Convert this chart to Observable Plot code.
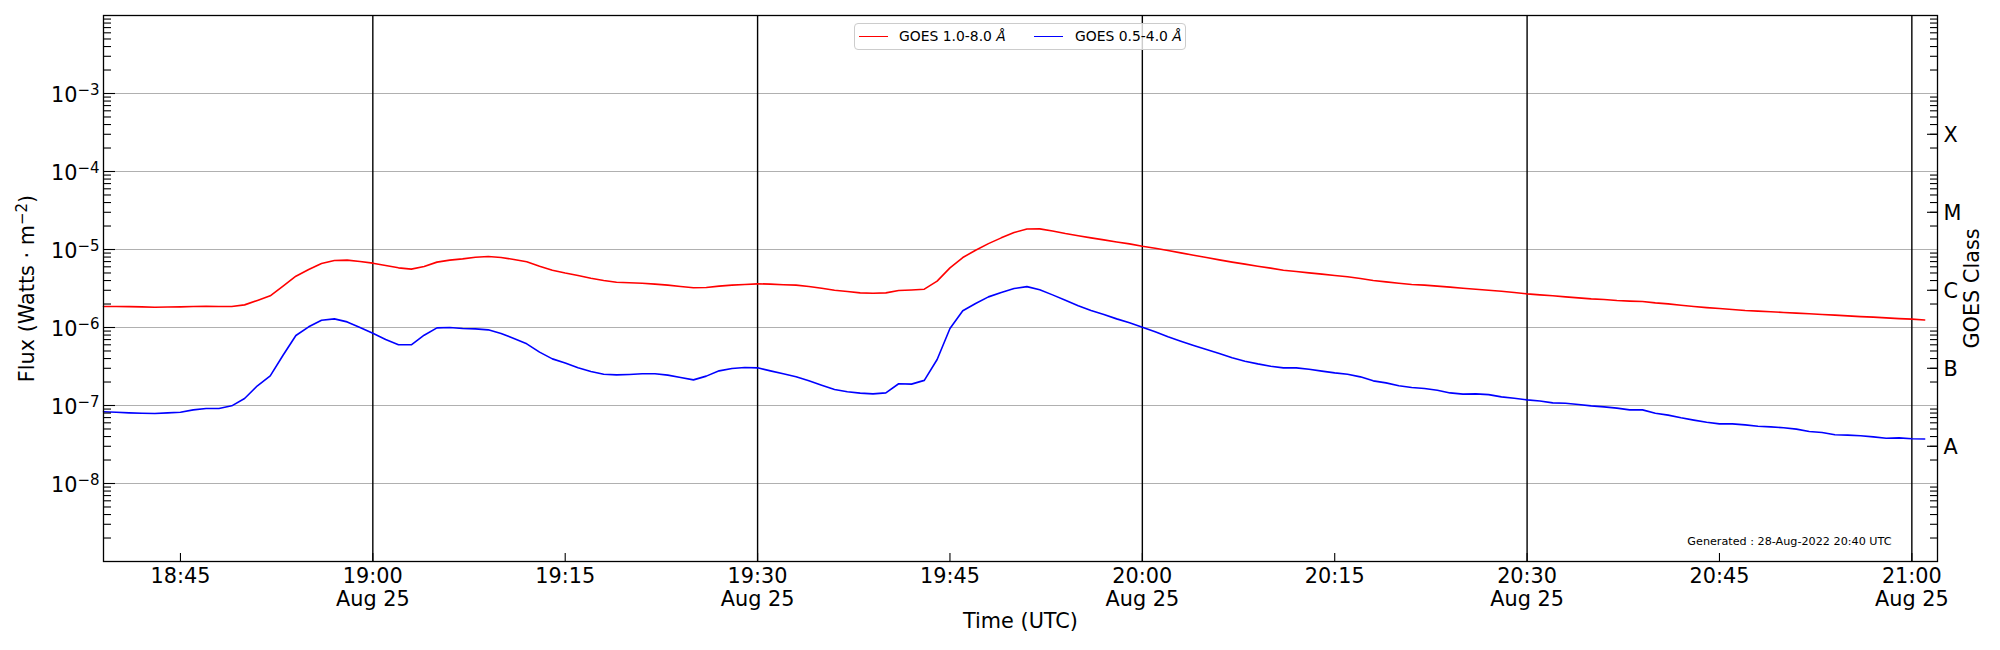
<!DOCTYPE html>
<html>
<head>
<meta charset="utf-8">
<script src="https://cdn.jsdelivr.net/npm/d3@7"></script>
<script src="https://cdn.jsdelivr.net/npm/@observablehq/plot@0.6"></script>
<style>
html, body { margin: 0; padding: 0; background: #fff; }
#wrap { position: relative; width: 2000px; height: 650px; font-family: "DejaVu Sans", sans-serif; }
#wrap svg { display: block; }
.legend { position: absolute; left: 854px; top: 23px; width: 332px; height: 27px; box-sizing: border-box;
  border: 1px solid #cccccc; border-radius: 4px; background: rgba(255,255,255,0.8);
  font-family: "DejaVu Sans", sans-serif; font-size: 13.9px; color: #000; }
.legend .ln { position: absolute; top: 12px; width: 29px; height: 0; border-top: 1.6px solid; }
.legend .tx { position: absolute; top: 0; line-height: 25px; white-space: nowrap; }
.legend i { font-style: italic; }
</style>
</head>
<body>
<div id="wrap"></div>
<script>
// ---------------- data ----------------
const startTime = "2022-08-25T18:39:00Z";   // first sample
const cadenceMinutes = 1;                    // one sample per minute

const seriesNames = ["GOES 1.0-8.0", "GOES 0.5-4.0"];
const seriesUnit = "Å";
const seriesColors = ["#ff0000", "#0000ff"];

// GOES 1.0-8.0 Å (W/m^2)
const xrsLong = [
  1.86e-6, 1.86e-6, 1.85e-6, 1.84e-6, 1.82e-6, 1.83e-6, 1.84e-6, 1.86e-6, 1.87e-6, 1.86e-6,
  1.86e-6, 1.95e-6, 2.22e-6, 2.55e-6, 3.39e-6, 4.55e-6, 5.54e-6, 6.62e-6, 7.22e-6, 7.30e-6,
  7.02e-6, 6.68e-6, 6.24e-6, 5.82e-6, 5.60e-6, 6.05e-6, 6.89e-6, 7.30e-6, 7.59e-6, 7.97e-6,
  8.13e-6, 7.90e-6, 7.45e-6, 6.95e-6, 6.11e-6, 5.43e-6, 5.00e-6, 4.65e-6, 4.29e-6, 4.01e-6,
  3.81e-6, 3.74e-6, 3.70e-6, 3.60e-6, 3.49e-6, 3.36e-6, 3.23e-6, 3.25e-6, 3.39e-6, 3.49e-6,
  3.56e-6, 3.63e-6, 3.60e-6, 3.53e-6, 3.49e-6, 3.36e-6, 3.19e-6, 3.01e-6, 2.90e-6, 2.78e-6,
  2.75e-6, 2.78e-6, 2.98e-6, 3.03e-6, 3.10e-6, 3.93e-6, 5.82e-6, 7.89e-6, 9.80e-6, 1.19e-5,
  1.41e-5, 1.65e-5, 1.83e-5, 1.84e-5, 1.73e-5, 1.60e-5, 1.50e-5, 1.41e-5, 1.33e-5, 1.25e-5,
  1.18e-5, 1.10e-5, 1.04e-5, 9.70e-6, 9.06e-6, 8.46e-6, 7.89e-6, 7.37e-6, 6.89e-6, 6.49e-6,
  6.11e-6, 5.77e-6, 5.43e-6, 5.22e-6, 5.02e-6, 4.83e-6, 4.65e-6, 4.47e-6, 4.25e-6, 4.01e-6,
  3.85e-6, 3.70e-6, 3.56e-6, 3.49e-6, 3.39e-6, 3.29e-6, 3.19e-6, 3.10e-6, 3.00e-6, 2.92e-6,
  2.81e-6, 2.70e-6, 2.62e-6, 2.55e-6, 2.47e-6, 2.40e-6, 2.33e-6, 2.29e-6, 2.22e-6, 2.18e-6,
  2.15e-6, 2.07e-6, 2.01e-6, 1.93e-6, 1.86e-6, 1.80e-6, 1.75e-6, 1.70e-6, 1.65e-6, 1.62e-6,
  1.59e-6, 1.56e-6, 1.53e-6, 1.50e-6, 1.47e-6, 1.44e-6, 1.41e-6, 1.38e-6, 1.36e-6, 1.33e-6,
  1.30e-6, 1.28e-6, 1.25e-6
];

// GOES 0.5-4.0 Å (W/m^2)
const xrsShort = [
  8.30e-8, 8.20e-8, 8.05e-8, 7.95e-8, 7.88e-8, 8.05e-8, 8.20e-8, 8.79e-8, 9.16e-8, 9.16e-8,
  9.90e-8, 1.23e-7, 1.79e-7, 2.40e-7, 4.41e-7, 7.90e-7, 1.02e-6, 1.24e-6, 1.29e-6, 1.18e-6,
  1.00e-6, 8.46e-7, 7.00e-7, 6.00e-7, 6.00e-7, 7.97e-7, 9.90e-7, 1.00e-6, 9.70e-7, 9.60e-7,
  9.33e-7, 8.38e-7, 7.23e-7, 6.18e-7, 4.83e-7, 3.96e-7, 3.50e-7, 3.04e-7, 2.73e-7, 2.52e-7,
  2.47e-7, 2.50e-7, 2.55e-7, 2.55e-7, 2.45e-7, 2.29e-7, 2.13e-7, 2.38e-7, 2.78e-7, 2.98e-7,
  3.07e-7, 3.04e-7, 2.78e-7, 2.55e-7, 2.33e-7, 2.07e-7, 1.82e-7, 1.60e-7, 1.50e-7, 1.44e-7,
  1.41e-7, 1.45e-7, 1.90e-7, 1.88e-7, 2.10e-7, 3.89e-7, 9.70e-7, 1.64e-6, 2.03e-6, 2.47e-6,
  2.81e-6, 3.16e-6, 3.34e-6, 3.04e-6, 2.62e-6, 2.24e-6, 1.90e-6, 1.65e-6, 1.47e-6, 1.29e-6,
  1.15e-6, 1.01e-6, 8.80e-7, 7.60e-7, 6.68e-7, 5.88e-7, 5.22e-7, 4.65e-7, 4.09e-7, 3.70e-7,
  3.42e-7, 3.19e-7, 3.04e-7, 3.04e-7, 2.92e-7, 2.76e-7, 2.62e-7, 2.52e-7, 2.33e-7, 2.07e-7,
  1.95e-7, 1.79e-7, 1.70e-7, 1.65e-7, 1.57e-7, 1.45e-7, 1.40e-7, 1.41e-7, 1.38e-7, 1.29e-7,
  1.24e-7, 1.18e-7, 1.14e-7, 1.08e-7, 1.07e-7, 1.03e-7, 9.90e-8, 9.60e-8, 9.25e-8, 8.79e-8,
  8.79e-8, 7.97e-8, 7.52e-8, 6.95e-8, 6.49e-8, 6.11e-8, 5.82e-8, 5.82e-8, 5.65e-8, 5.43e-8,
  5.32e-8, 5.18e-8, 4.98e-8, 4.65e-8, 4.51e-8, 4.21e-8, 4.17e-8, 4.09e-8, 3.96e-8, 3.81e-8,
  3.85e-8, 3.74e-8, 3.72e-8
];

const xDomain = ["2022-08-25T18:39:00Z", "2022-08-25T21:02:00Z"];
const xTickTimes = ["18:45", "19:00", "19:15", "19:30", "19:45", "20:00", "20:15", "20:30", "20:45", "21:00"];
const xTickLabels = ["18:45", "19:00\nAug 25", "19:15", "19:30\nAug 25", "19:45", "20:00\nAug 25",
                     "20:15", "20:30\nAug 25", "20:45", "21:00\nAug 25"];
const dayLineTimes = ["19:00", "19:30", "20:00", "20:30", "21:00"];

const yDomain = [1e-9, 1e-2];
const yDecadeTicks = [1e-8, 1e-7, 1e-6, 1e-5, 1e-4, 1e-3];
const goesClassValues = [3e-8, 3e-7, 3e-6, 3e-5, 3e-4];
const goesClassLabels = ["A", "B", "C", "M", "X"];

const xLabel = "Time (UTC)";
const yLabelMain = "Flux (Watts · m";
const yLabelSup = "−2";
const yLabelEnd = ")";
const y2Label = "GOES Class";
const generatedText = "Generated : 28-Aug-2022 20:40 UTC";

// ---------------- build ----------------
const dateOn = hm => new Date(`2022-08-25T${hm}:00Z`);
const t0 = new Date(startTime);
const rows = [];
[xrsLong, xrsShort].forEach((arr, s) => {
  arr.forEach((v, i) => rows.push({
    time: new Date(t0.getTime() + i * cadenceMinutes * 60000),
    flux: v,
    series: seriesNames[s]
  }));
});

const xTicks = xTickTimes.map(dateOn);
const dayLines = dayLineTimes.map(dateOn);

// log minor ticks 2..9 x 10^k inside domain
const yMinorTicks = [];
for (let e = -9; e <= -3; e++) for (let k = 2; k <= 9; k++) yMinorTicks.push(+(k + "e" + e));

const W = 2000, H = 650, ML = 103, MR = 63, MT = 15, MB = 89;
const FW = W - ML - MR, FH = H - MT - MB;
const FS = 20.8;
const expOf = d => Math.round(Math.log10(d));

const chart = Plot.plot({
  width: W,
  height: H,
  marginLeft: ML,
  marginRight: MR,
  marginTop: MT,
  marginBottom: MB,
  style: {fontFamily: "DejaVu Sans, sans-serif", fontSize: FS + "px", color: "black", background: "white", overflow: "visible"},
  x: {type: "utc", domain: xDomain.map(d => new Date(d)), axis: null},
  y: {type: "log", domain: yDomain, axis: null},
  color: {domain: seriesNames, range: seriesColors},
  marks: [
    Plot.ruleY(yDecadeTicks, {stroke: "#b0b0b0", strokeWidth: 1.1}),
    Plot.ruleX(dayLines, {stroke: "black", strokeWidth: 1.4}),
    Plot.line(rows, {x: "time", y: "flux", z: "series", stroke: "series", strokeWidth: 1.6, curve: "linear"}),
    // inward ticks: left (minor + major), right (minor + class), bottom
    Plot.tickY(yMinorTicks, {y: d => d, insetRight: FW - 8, stroke: "black", strokeWidth: 1.1}),
    Plot.tickY(yDecadeTicks, {y: d => d, insetRight: FW - 12, stroke: "black", strokeWidth: 1.1}),
    Plot.tickY(yMinorTicks, {y: d => d, insetLeft: FW - 7, stroke: "black", strokeWidth: 1.1}),
    Plot.tickY(goesClassValues, {y: d => d, insetLeft: FW - 10, stroke: "black", strokeWidth: 1.1}),
    Plot.tickX(xTicks, {x: d => d, insetTop: FH - 8, stroke: "black", strokeWidth: 1.1}),
    Plot.frame({stroke: "black", strokeWidth: 1.3}),
    // tick labels
    Plot.text(yDecadeTicks, {y: d => d, text: d => "10", frameAnchor: "left", textAnchor: "end", dx: -4, dy: 2, fontSize: FS, fill: "black", className: "ypow"}),
    Plot.text(goesClassValues, {y: d => d, text: (d, i) => goesClassLabels[i], frameAnchor: "right", textAnchor: "start", dx: 6, dy: 1, fontSize: FS, fill: "black"}),
    Plot.text(xTicks, {x: d => d, text: (d, i) => xTickLabels[i], frameAnchor: "bottom", lineAnchor: "top", dy: 5, lineHeight: 1.1, fontSize: FS, fill: "black"}),
    // axis titles
    Plot.text([xLabel], {text: d => d, frameAnchor: "bottom", textAnchor: "middle", dy: 66, fontSize: FS, fill: "black"}),
    Plot.text([yLabelMain], {text: d => d, frameAnchor: "left", textAnchor: "middle", lineAnchor: "middle", rotate: -90, dx: -76, fontSize: FS, fill: "black", className: "ylab"}),
    Plot.text([y2Label], {text: d => d, frameAnchor: "right", textAnchor: "middle", lineAnchor: "middle", rotate: -90, dx: 35, fontSize: FS, fill: "black"}),
    Plot.text([generatedText], {text: d => d, frameAnchor: "bottom-right", textAnchor: "end", dx: -46, dy: -17, fontSize: 11.2, fill: "black"})
  ]
});

// superscripts as real tspans
const SVGNS = "http://www.w3.org/2000/svg";
d3.select(chart).selectAll("g.ypow text").each(function(d, i) {
  const e = expOf(yDecadeTicks[i]);
  const sup = document.createElementNS(SVGNS, "tspan");
  sup.setAttribute("font-size", "0.72em");
  sup.setAttribute("dy", "-7.5px");
  sup.textContent = String(e).replace("-", "−");
  this.appendChild(sup);
});
d3.select(chart).selectAll("g.ylab text").each(function() {
  const sup = document.createElementNS(SVGNS, "tspan");
  sup.setAttribute("font-size", "0.72em");
  sup.setAttribute("dy", "-7.5px");
  sup.textContent = yLabelSup;
  const end = document.createElementNS(SVGNS, "tspan");
  end.setAttribute("dy", "7.5px");
  end.textContent = yLabelEnd;
  this.appendChild(sup);
  this.appendChild(end);
});

const wrap = document.getElementById("wrap");
wrap.appendChild(chart);

// legend (overlay inside the plot area, as in the reference)
const legend = document.createElement("div");
legend.className = "legend";
const lineLefts = [4, 179], textLefts = [44, 220];
seriesNames.forEach((name, i) => {
  const ln = document.createElement("span");
  ln.className = "ln";
  ln.style.left = lineLefts[i] + "px";
  ln.style.borderTopColor = seriesColors[i];
  const tx = document.createElement("span");
  tx.className = "tx";
  tx.style.left = textLefts[i] + "px";
  tx.appendChild(document.createTextNode(name + " "));
  const it = document.createElement("i");
  it.textContent = seriesUnit;
  tx.appendChild(it);
  legend.appendChild(ln);
  legend.appendChild(tx);
});
wrap.appendChild(legend);
</script>
</body>
</html>
